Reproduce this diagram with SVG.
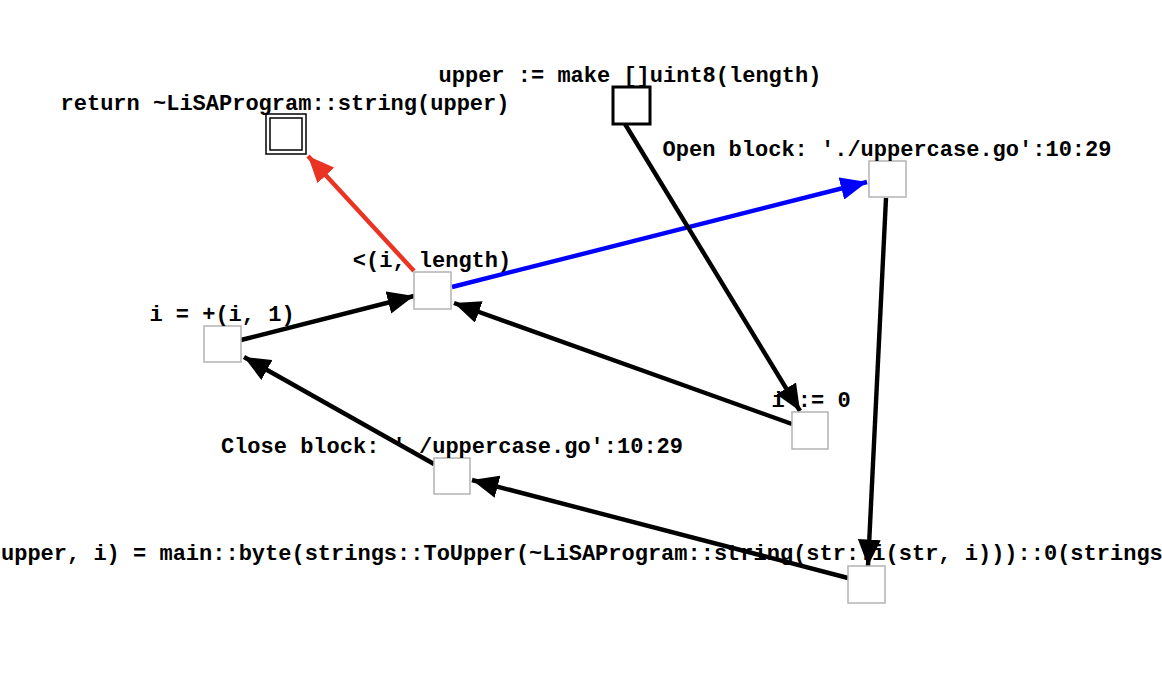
<svg xmlns="http://www.w3.org/2000/svg" width="1162" height="680" viewBox="0 0 1162 680">
<style>
text{font-family:"Liberation Mono","Courier New",monospace;font-weight:bold;font-size:22px;fill:#000;text-anchor:middle}
.n{fill:#fff;stroke:#b3b3b3;stroke-width:1.5}
.e{fill:none;stroke-width:4.4}
.k{stroke:#000}
.r{stroke:#ea3323}
.b{stroke:#0000ff}
</style>
<defs>
<marker id="ak" viewBox="0 0 10 10" refX="10" refY="5" markerWidth="6" markerHeight="5.2" orient="auto" markerUnits="strokeWidth" preserveAspectRatio="none"><path d="M0,0L10,5L0,10z" fill="#000"/></marker>
<marker id="ar" viewBox="0 0 10 10" refX="10" refY="5" markerWidth="6" markerHeight="5.2" orient="auto" markerUnits="strokeWidth" preserveAspectRatio="none"><path d="M0,0L10,5L0,10z" fill="#ea3323"/></marker>
<marker id="ab" viewBox="0 0 10 10" refX="10" refY="5" markerWidth="6" markerHeight="5.2" orient="auto" markerUnits="strokeWidth" preserveAspectRatio="none"><path d="M0,0L10,5L0,10z" fill="#0000ff"/></marker>
</defs>
<rect width="1162" height="680" fill="#fff"/>
<g id="edges">
<line class="e r" x1="414" y1="271" x2="308" y2="156" marker-end="url(#ar)"/>
<line class="e b" x1="452" y1="287" x2="867" y2="182" marker-end="url(#ab)"/>
<line class="e k" x1="625" y1="124" x2="800" y2="411" marker-end="url(#ak)"/>
<line class="e k" x1="886" y1="198" x2="868" y2="566" marker-end="url(#ak)"/>
<line class="e k" x1="792" y1="424" x2="454" y2="303" marker-end="url(#ak)"/>
<line class="e k" x1="848" y1="578" x2="472" y2="480" marker-end="url(#ak)"/>
<line class="e k" x1="434" y1="464" x2="244" y2="357" marker-end="url(#ak)"/>
<line class="e k" x1="241" y1="340" x2="414" y2="296" marker-end="url(#ak)"/>
</g>
<g id="n_return">
<rect x="266" y="114" width="40" height="40" fill="#fff" stroke="#000" stroke-width="1.5"/>
<rect x="270" y="118" width="32" height="32" fill="#fff" stroke="#000" stroke-width="1.5"/>
<text x="285" y="110">return ~LiSAProgram::string(upper)</text>
</g>
<g id="n_make">
<rect x="613" y="87" width="37" height="37" fill="#fff" stroke="#000" stroke-width="3"/>
<text x="630" y="82">upper := make []uint8(length)</text>
</g>
<g id="n_open">
<rect class="n" x="869" y="161" width="37" height="36"/>
<text x="887" y="156">Open block: './uppercase.go':10:29</text>
</g>
<g id="n_cond">
<rect class="n" x="414" y="272" width="37" height="37"/>
<text x="432" y="267">&lt;(i, length)</text>
</g>
<g id="n_inc">
<rect class="n" x="204" y="326" width="37" height="36"/>
<text x="222" y="321">i = +(i, 1)</text>
</g>
<g id="n_init">
<rect class="n" x="792" y="412" width="36" height="37"/>
<text x="811" y="407">i := 0</text>
</g>
<g id="n_close">
<rect class="n" x="434" y="458" width="36" height="36"/>
<text x="452" y="453">Close block: './uppercase.go':10:29</text>
</g>
<g id="n_assign">
<rect class="n" x="848" y="566" width="37" height="37"/>
<text x="1" y="560" style="text-anchor:start">upper, i) = main::byte(strings::ToUpper(~LiSAProgram::string(str::i(str, i)))::0(strings</text>
</g>
</svg>
